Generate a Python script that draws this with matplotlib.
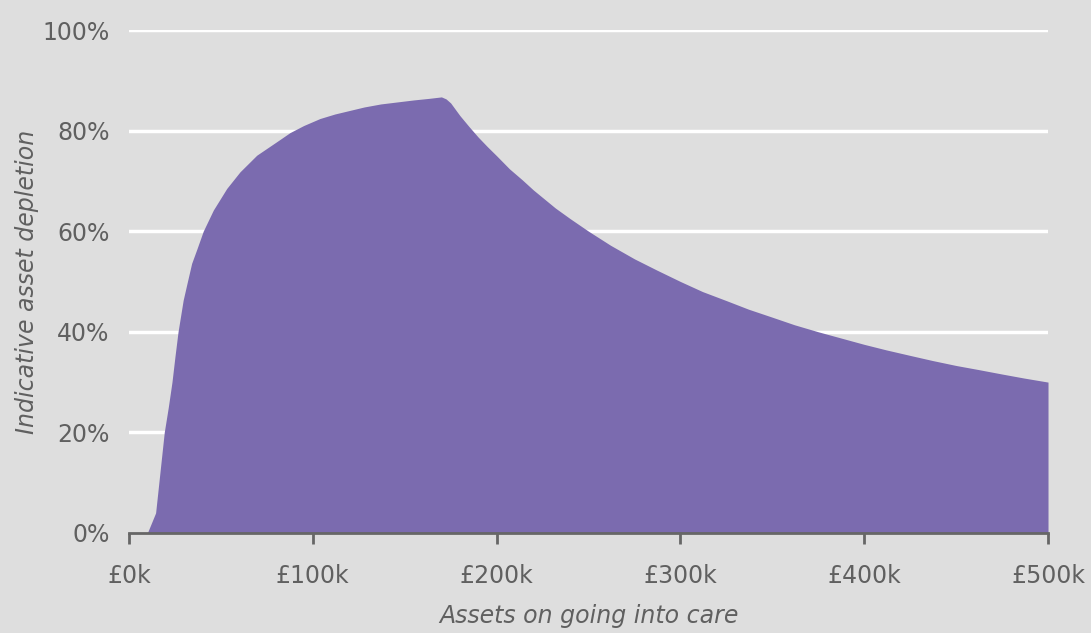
# courbe de l'épuisement indicatif des actifs selon les actifs à l'entrée en soins
import matplotlib
matplotlib.use('Agg')
import matplotlib.pyplot as plt

# actifs en milliers de livres
actifs_k = [10, 14.5, 19.2, 21.4, 23.4, 25, 26.7, 29.5, 31.5, 34.1, 37, 40.4, 45.9, 53.2,
            60.4, 69.5, 80.4, 87.6, 95, 103.9, 112, 120, 128, 137, 146, 155, 163, 170, 172.5,
            175, 180, 185, 190, 195, 200, 207, 214, 220, 225, 232, 240, 250, 262, 275,
            287, 300, 312, 325, 337, 350, 362, 375, 387, 400, 412, 425, 437, 450, 462,
            475, 487, 500]
# épuisement en pourcentage
epuisement = [0, 4, 20, 25, 30, 35, 40, 46.3, 49.5, 53.6, 56.5, 60, 64.2, 68.5,
              71.8, 75.1, 77.8, 79.6, 81, 82.4, 83.3, 84, 84.7, 85.3, 85.7, 86.1, 86.4, 86.7, 86.3,
              85.5, 83, 80.8, 78.7, 76.8, 75, 72.4, 70.2, 68.2, 66.7, 64.6, 62.5, 60, 57.2, 54.5,
              52.3, 50, 48, 46.2, 44.5, 42.9, 41.4, 40, 38.8, 37.5, 36.4, 35.3, 34.3, 33.3, 32.5,
              31.6, 30.8, 30]

x_ticks = [0, 100, 200, 300, 400, 500]
y_ticks = [0, 20, 40, 60, 80, 100]

fond = '#dedede'
violet = '#7b6baf'
gris = '#606060'

fig = plt.figure(figsize=(10.91, 6.33), dpi=100, facecolor=fond)
ax = fig.add_axes([0.1182, 0.158, 0.8424, 0.7946])
ax.set_facecolor(fond)

ax.fill_between(actifs_k, epuisement, 0, color=violet, linewidth=0, zorder=3)

ax.set_xlim(0, 500)
ax.set_ylim(0, 100)
ax.set_xticks(x_ticks)
ax.set_xticklabels(['£%dk' % v for v in x_ticks])
ax.set_yticks(y_ticks)
ax.set_yticklabels(['%d%%' % v for v in y_ticks])

# lignes de grille blanches (pas à 0%)
for v in y_ticks[1:]:
    ax.axhline(v, color='white', linewidth=2.5, zorder=1)

for s in ['top', 'right', 'left']:
    ax.spines[s].set_visible(False)
ax.spines['bottom'].set_color('#666666')
ax.spines['bottom'].set_linewidth(2)
ax.spines['bottom'].set_zorder(4)

ax.tick_params(axis='x', colors='#666666', length=8, width=2, labelcolor=gris,
               labelsize=17, pad=14)
ax.tick_params(axis='y', length=0, labelcolor=gris, labelsize=17, pad=14)

ax.set_xlabel('Assets on going into care', fontsize=17, style='italic', color=gris, labelpad=12)
ax.set_ylabel('Indicative asset depletion', fontsize=17, style='italic', color=gris, labelpad=2)

fig.savefig('out.png', dpi=100, facecolor=fond)
